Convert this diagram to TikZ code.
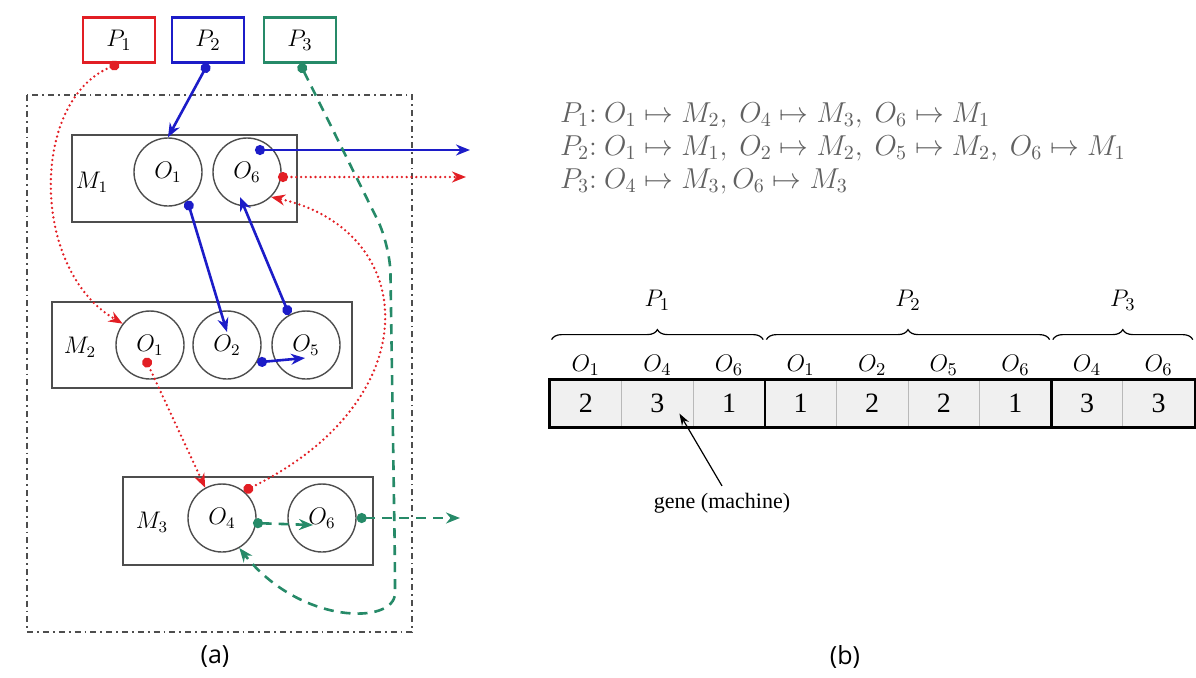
\documentclass[tikz,border=0pt]{standalone}
\usepackage{fontspec}
\setmainfont{Liberation Serif}
\newfontfamily\capfont{Open Sans}
\usetikzlibrary{arrows.meta,positioning,calc,decorations.pathreplacing}
\definecolor{pred}{RGB}{226,30,36}
\definecolor{pblue}{RGB}{28,28,200}
\definecolor{pgreen}{RGB}{38,138,104}
\definecolor{boxgray}{RGB}{78,78,78}

\begin{document}
\begin{tikzpicture}[
  x=0.5pt, y=-0.5pt, >=Stealth,
  pbox/.style={draw=#1, line width=1.1pt, minimum width=36pt, minimum height=22.5pt, inner sep=0pt, font=\fontsize{12.5}{14}\selectfont},
  mbox/.style={draw=boxgray, line width=0.9pt, inner sep=0pt},
  op/.style={circle, draw=boxgray, line width=0.7pt, minimum size=34pt, inner sep=0pt, font=\fontsize{12}{14}\selectfont},
  mlab/.style={font=\fontsize{12}{14}\selectfont},
  route/.style={line width=1.3pt, {Circle[length=5pt]}-{Stealth[length=7pt,width=5.5pt]}},
  bl/.style={route, pblue},
  rd/.style={route, pred, dash pattern=on 0pt off 2.4pt, line cap=round},
  gr/.style={route, pgreen, dash pattern=on 5pt off 3.5pt},
  cell/.style={draw=gray!55, line width=0.4pt, fill=gray!12, minimum width=35.8pt, minimum height=23.5pt, inner sep=0pt, font=\fontsize{14}{14}\selectfont},
  olab/.style={font=\fontsize{12.5}{14}\selectfont},
  plab/.style={font=\fontsize{12.5}{14}\selectfont},
  pbrace/.style={decorate, decoration={brace, amplitude=5pt}, line width=0.6pt},
  formula/.style={align=left, text=black!62, font=\fontsize{14}{16.5}\selectfont}]
  \useasboundingbox (0,0) rectangle (1196,677);

  % (a) production routes
  \node[pbox=pred] (p1) at (119,40) {$P_1$};
  \node[pbox=pblue] (p2) at (208,40) {$P_2$};
  \node[pbox=pgreen] (p3) at (300,40) {$P_3$};
  \draw[boxgray, line width=0.9pt, dash dot] (27,95) rectangle (412,632);

  \node[mbox, minimum width=112.5pt, minimum height=43.5pt] (m1) at (184.5,178.5) {};
  \node[mbox, minimum width=150pt, minimum height=43pt] (m2) at (202,345) {};
  \node[mbox, minimum width=125pt, minimum height=44pt] (m3) at (248,521) {};
  \node[mlab] (m1lab) at (92,182) {$M_1$};
  \node[mlab] (m2lab) at (80,347) {$M_2$};
  \node[mlab] (m3lab) at (152,522) {$M_3$};

  \node[op] (m1o1) at (168,172) {$O_1$};
  \node[op] (m1o6) at (247,172) {$O_6$};
  \node[op] (m2o1) at (150,345) {$O_1$};
  \node[op] (m2o2) at (227,345) {$O_2$};
  \node[op] (m2o5) at (306,345) {$O_5$};
  \node[op] (m3o4) at (222,518) {$O_4$};
  \node[op] (m3o6) at (322,518) {$O_6$};

  \coordinate (outb) at (470,150);
  \coordinate (outr) at (466,177);
  \coordinate (outg) at (460,518);

  % P2
  \draw[bl] (p2.south) -- (m1o1.north);
  \draw[bl] (m1o1.-56) -- ($(m2o2.center)+(0,-13)$);
  \draw[bl] (m2o2.-30) -- ($(m2o5.center)+(-1,13)$);
  \draw[bl] (m2o5.119) -- ($(m1o6.center)+(-7,25)$);
  \draw[bl] ($(m1o6.center)+(8,-22)$) -- (outb);
  % P1
  \draw[rd] (p1.south) .. controls (30,100) and (30,270) .. (m2o1.142);
  \draw[rd] ($(m2o1.center)+(-5,13)$) -- (m3o4.119);
  \draw[rd] (m3o4.51) .. controls (430,400) and (420,230) .. (m1o6.-46);
  \draw[rd] ($(m1o6.center)+(31,5)$) -- (outr);
  % P3
  \draw[gr, rounded corners=14pt] (p3.south) -- (390,245) -- (395,565) .. controls (395,625) and (300,625) .. (m3o4.-60);
  \draw[gr] ($(m3o4.center)+(31,5)$) -- ($(m3o6.center)+(-9,7)$);
  \draw[gr] (m3o6.east) -- (outg);

  % (b) chromosome
  \node[formula, anchor=west] (rules) at (553,148)
    {$P_1{:}\ O_1\mapsto M_2,\ O_4\mapsto M_3,\ O_6\mapsto M_1$\\
     $P_2{:}\ O_1\mapsto M_1,\ O_2\mapsto M_2,\ O_5\mapsto M_2,\ O_6\mapsto M_1$\\
     $P_3{:}\ O_4\mapsto M_3, O_6\mapsto M_3$};

  \foreach \g/\o [count=\i] in {2/1,3/4,1/6,1/1,2/2,2/5,1/6,3/4,3/6}{
    \node[cell] (c\i) at ({550+71.6*(\i-0.5)},403.5) {\g};
    \node[olab, above=-1.5pt of c\i] (o\i) {$O_{\o}$};
  }
  \draw[line width=1.2pt] (c1.north west) rectangle (c9.south east);
  \draw[line width=1.2pt] (c3.north east) -- (c3.south east);
  \draw[line width=1.2pt] (c7.north east) -- (c7.south east);

  \draw[pbrace] ($(c1.north west)+(2,-40)$) -- ($(c3.north east)+(-2,-40)$)
    node[plab, midway, above=11pt] (b1) {$P_1$};
  \draw[pbrace] ($(c4.north west)+(2,-40)$) -- ($(c7.north east)+(-2,-40)$)
    node[plab, midway, above=11pt] (b2) {$P_2$};
  \draw[pbrace] ($(c8.north west)+(2,-40)$) -- ($(c9.north east)+(-2,-40)$)
    node[plab, midway, above=11pt] (b3) {$P_3$};

  \node[font=\fontsize{11}{13}\selectfont] (gene) at (722,503) {gene (machine)};
  \draw[-{Stealth[length=6pt,width=4pt]}, line width=0.6pt] (gene.north) -- ($(c2.center)+(22,10)$);

  \node[font=\capfont\fontsize{12.5}{14}\selectfont] (capa) at (215,657) {(a)};
  \node[font=\capfont\fontsize{12.5}{14}\selectfont] (capb) at (845,657) {(b)};
\end{tikzpicture}
\end{document}
